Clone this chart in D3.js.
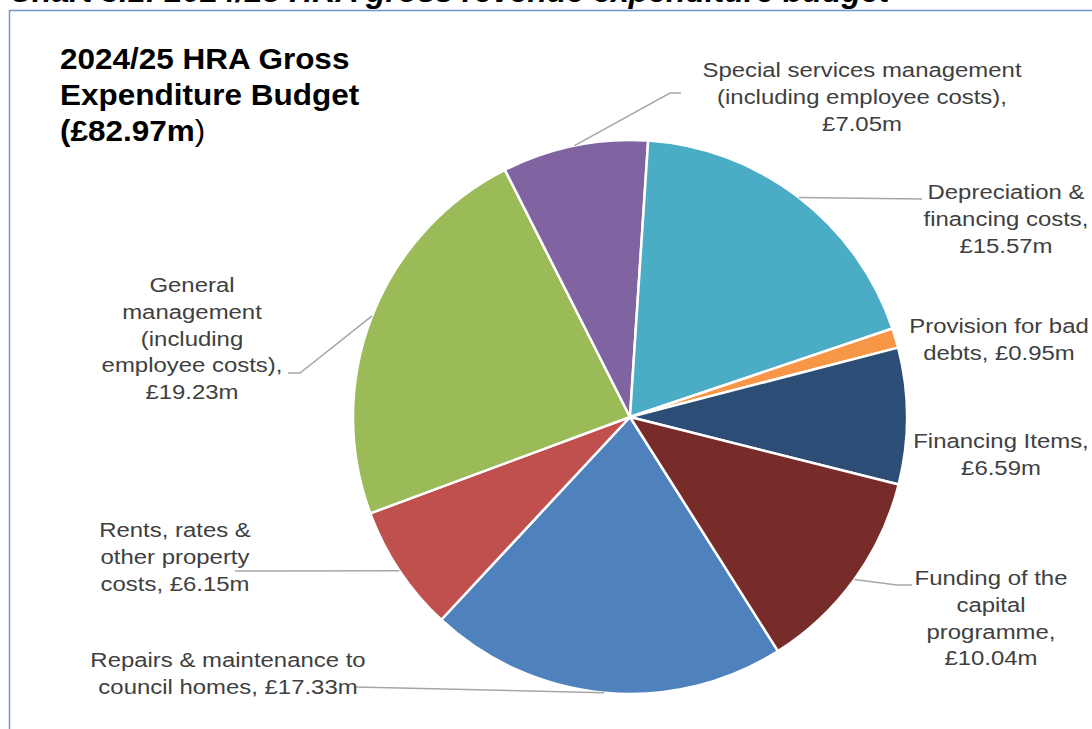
<!DOCTYPE html>
<html>
<head>
<meta charset="utf-8">
<script src="https://cdn.jsdelivr.net/npm/d3@7"></script>
<style>
  html, body { margin: 0; padding: 0; background: #fff; }
  svg { display: block; font-family: Arial, "Liberation Sans", sans-serif; }
</style>
</head>
<body>
<svg id="chart" width="1092" height="729"></svg>
<script>
// HRA gross expenditure budget 2024/25 (£m), in series order
const categories = [
  "Repairs & maintenance to council homes",
  "Rents, rates & other property costs",
  "General management (including employee costs)",
  "Special services management (including employee costs)",
  "Depreciation & financing costs",
  "Provision for bad debts",
  "Financing Items",
  "Funding of the capital programme"
];
const values = [17.33, 6.15, 19.23, 7.05, 15.57, 0.95, 6.59, 10.04];
const colors = ["#4F81BD", "#C0504D", "#9BBB59", "#8064A2", "#4BACC6", "#F79646", "#2C4D75", "#772C2A"];
const titleLines = ["2024/25 HRA Gross", "Expenditure Budget", "(£82.97m"];
const captionText = "Chart 3.1: 2024/25 HRA gross revenue expenditure budget";

// Label layout: words per line, text anchor (centre x, first baseline), leader elbow points
const labelLayout = [
  { words: [4, 3], x: 228, y: 667, leader: [[355, 687]] },
  { words: [3, 2, 2], x: 175, y: 537, leader: [[235, 571]] },
  { words: [1, 1, 1, 2, 1], x: 192, y: 292, leader: [[300, 373], [288, 373]] },
  { words: [3, 3, 1], x: 862, y: 77, leader: [[670, 93], [681, 93]] },
  { words: [2, 2, 1], x: 1006, y: 199, leader: [[922, 199]] },
  { words: [3, 2], x: 999, y: 333, leader: null },
  { words: [2, 1], x: 1001, y: 448, leader: null },
  { words: [3, 1, 1, 1], x: 991, y: 585, leader: [[897, 585], [912, 585]] }
];

const svg = d3.select("#chart");
const cx = 630, cy = 417, radius = 277;
const lineH = 26.8;
const toRad = Math.PI / 180;
const startDeg = 147.7;

// Caption above the chart frame (mostly off the top of the page)
svg.append("text")
  .attr("transform", "translate(9,2) scale(1.03,1)")
  .attr("font-size", 31).attr("font-weight", "bold").attr("font-style", "italic")
  .attr("fill", "#000")
  .text(captionText);

// Chart frame
svg.append("path")
  .attr("d", "M9.5,729 V10.5 H1092")
  .attr("fill", "none").attr("stroke", "#6f97cc").attr("stroke-width", 1.5);

// Title
const title = svg.append("text")
  .attr("transform", "translate(60,69) scale(1.05,1)")
  .attr("font-size", 30).attr("font-weight", "bold").attr("fill", "#000");
titleLines.forEach((t, i) => {
  title.append("tspan").attr("x", 0).attr("dy", i === 0 ? 0 : 36).text(t);
});
title.append("tspan").attr("font-weight", "normal").text(")");

// Pie
const pie = d3.pie().sort(null).value(d => d)
  .startAngle(startDeg * toRad).endAngle(startDeg * toRad + 2 * Math.PI);
const arcs = pie(values);
const arc = d3.arc().innerRadius(0).outerRadius(radius);

const g = svg.append("g").attr("transform", `translate(${cx},${cy})`);
g.selectAll("path.slice")
  .data(arcs)
  .join("path")
  .attr("class", "slice")
  .attr("d", arc)
  .attr("fill", (d, i) => colors[i])
  .attr("stroke", "#fff")
  .attr("stroke-width", 2.5)
  .attr("stroke-linejoin", "round");

// Leader lines from the slice's outer mid-point to its label
const edgePoint = d => {
  const a = (d.startAngle + d.endAngle) / 2;
  return [cx + radius * Math.sin(a), cy - radius * Math.cos(a)];
};
arcs.forEach((d, i) => {
  const lay = labelLayout[i];
  if (!lay.leader) return;
  const pts = [edgePoint(d), ...lay.leader];
  svg.append("path")
    .attr("d", d3.line()(pts))
    .attr("fill", "none")
    .attr("stroke", "#a6a6a6")
    .attr("stroke-width", 1.5);
});

// Data labels
arcs.forEach((d, i) => {
  const lay = labelLayout[i];
  const full = `${categories[i]}, £${values[i].toFixed(2)}m`;
  const words = full.split(" ");
  const lines = [];
  let k = 0;
  lay.words.forEach(n => { lines.push(words.slice(k, k + n).join(" ")); k += n; });
  const t = svg.append("text")
    .attr("transform", `translate(${lay.x},${lay.y}) scale(1.14,1)`)
    .attr("text-anchor", "middle")
    .attr("font-size", 21)
    .attr("fill", "#404040");
  lines.forEach((ln, j) => {
    t.append("tspan").attr("x", 0).attr("y", j * lineH).text(ln);
  });
});
</script>
</body>
</html>
